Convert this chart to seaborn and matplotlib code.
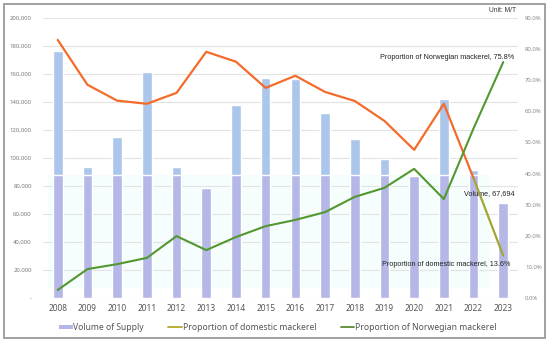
import numpy as np
import pandas as pd
import matplotlib
matplotlib.use("Agg")
import matplotlib.pyplot as plt
import seaborn as sns
from matplotlib.patches import Patch, Rectangle
from matplotlib.lines import Line2D
from matplotlib.ticker import FuncFormatter, MultipleLocator

# ---- data ----
years = ["2008", "2009", "2010", "2011", "2012", "2013", "2014", "2015",
         "2016", "2017", "2018", "2019", "2020", "2021", "2022", "2023"]
volume = [176000, 93500, 115000, 161000, 93500, 78500, 138000, 157000,
          156500, 132000, 113500, 99000, 87000, 142000, 91500, 67694]
domestic_pct = [82.9, 68.5, 63.4, 62.4, 65.9, 79.1, 75.9, 67.5,
                71.4, 66.2, 63.3, 56.9, 47.6, 62.4, 38.5, 13.6]
norwegian_pct = [2.6, 9.3, 10.9, 12.9, 19.9, 15.4, 19.6, 23.1,
                 25.1, 27.6, 32.5, 35.4, 41.5, 31.8, 54.5, 75.8]
legend_labels = ["Volume of Supply", "Proportion of domestic mackerel",
                 "Proportion of Norwegian mackerel"]
lower_tint_limit = 88000

sns.set_theme(style="white")
plt.rcParams['font.family'] = ['Noto Sans', 'DejaVu Sans']

df = pd.DataFrame({"year": years, "volume": volume,
                   "domestic": domestic_pct, "norwegian": norwegian_pct})
df["pos"] = np.arange(len(df))
df["volume_low"] = np.minimum(df["volume"], lower_tint_limit)

fig = plt.figure(figsize=(5.5, 3.43), dpi=100)
ax = fig.add_axes([0.078, 0.131, 0.864, 0.817])

# faint background tint
ax.axhspan(7000, lower_tint_limit, xmin=0.01, xmax=0.94, color="#f5fdfd", zorder=0, lw=0)

sns.barplot(data=df, x="year", y="volume", color="#abc6ea", width=0.32,
            saturation=1, ax=ax, zorder=2)
sns.barplot(data=df, x="year", y="volume_low", color="#b5b8e7", width=0.32,
            saturation=1, ax=ax, zorder=3)

ax.set_ylim(0, 200000)
ax.set_xlim(-0.5, len(years) - 0.5)
ax.yaxis.set_major_locator(MultipleLocator(20000))
ax.yaxis.set_major_formatter(FuncFormatter(lambda v, p: "-" if v == 0 else f"{int(v):,}"))
ax.grid(axis="y", color="#e3e3e3", lw=0.8, zorder=0)
ax.set_axisbelow(True)
for s in ax.spines.values():
    s.set_visible(False)
ax.tick_params(axis="y", length=0, labelsize=4.3, labelcolor="#7a7a7a", pad=8)
ax.tick_params(axis="x", length=0, labelsize=6, labelcolor="#555555", pad=4)
ax.set_xlabel("")
ax.set_ylabel("")

ax.text(15.37, 74300, "Volume, 67,694", ha="right", va="center",
        fontsize=5.2, color="#222222", family=["Liberation Sans"], zorder=6)

ax2 = ax.twinx()
ax2.set_ylim(0, 90)
sns.lineplot(data=df.iloc[:-1], x="pos", y="domestic", color="#f36c2b", lw=1.6,
             ax=ax2, zorder=5)
sns.lineplot(data=df.iloc[-2:], x="pos", y="domestic", color="#a3a535", lw=1.6,
             ax=ax2, zorder=5)
sns.lineplot(data=df, x="pos", y="norwegian", color="#52982f", lw=1.5,
             ax=ax2, zorder=6)
ax2.set_xlim(-0.5, len(years) - 0.5)
ax2.yaxis.set_major_locator(MultipleLocator(10))
ax2.yaxis.set_major_formatter(FuncFormatter(lambda v, p: f"{v:.1f}%"))
ax2.tick_params(axis="y", length=0, labelsize=4.3, labelcolor="#8a8a8a", pad=5)
ax2.set_xlabel("")
ax2.set_ylabel("")
for s in ax2.spines.values():
    s.set_visible(False)
ax2.grid(False)

ax2.text(15.37, 76.2, "Proportion of Norwegian mackerel, 75.8%", ha="right", va="bottom",
         fontsize=5.2, color="#222222", family=["Liberation Sans"])
ax2.text(15.25, 10.9, "Proportion of domestic mackerel, 13.6%", ha="right", va="center",
         fontsize=5.2, color="#222222", family=["Liberation Sans"])

fig.text(0.938, 0.968, "Unit: M/T", ha="right", va="center", fontsize=4.8,
         color="#333333", family=["Liberation Sans"])

handles = [Patch(facecolor="#b4b6e6", edgecolor="none"),
           Line2D([0], [0], color="#b3a82a", lw=1.3),
           Line2D([0], [0], color="#5a8a2e", lw=1.3)]
fig.legend(handles, legend_labels, loc="center", bbox_to_anchor=(0.505, 0.045),
           ncol=3, frameon=False, fontsize=6.2, handlelength=1.6, handleheight=0.5,
           handletextpad=0.1, columnspacing=2.8, labelcolor="#555555")

fig.patches.append(Rectangle((4 / 550, 5 / 343), 541 / 550, 334 / 343,
                             transform=fig.transFigure, fill=False,
                             edgecolor="#9a9a9a", lw=1.3))

fig.savefig("out.png", dpi=100)
